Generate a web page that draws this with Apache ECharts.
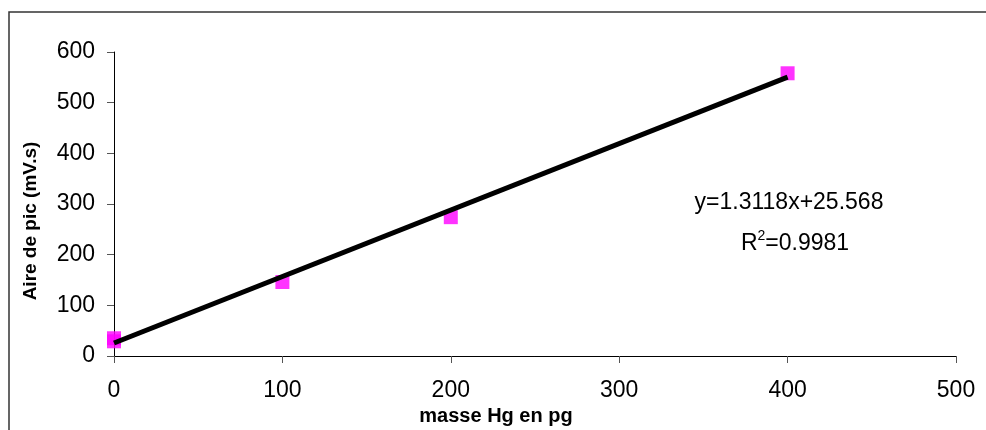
<!DOCTYPE html>
<html>
<head>
<meta charset="utf-8">
<script src="https://cdn.jsdelivr.net/npm/echarts@6/dist/echarts.min.js"></script>
<style>
  html, body { margin: 0; padding: 0; background: #fff; }
  #main { width: 986px; height: 430px; }
</style>
</head>
<body>
<div id="main"></div>
<script>
// données
var masseHg = [0, 0, 100, 200, 400];
var airePic = [29, 35, 146, 274, 558];
// droite de tendance (extrémités)
var trendX = [0, 400];
var trendY = [25.568, 550.288];
var xTicks = [0, 100, 200, 300, 400, 500];
var yTicks = [0, 100, 200, 300, 400, 500, 600];
var equation = 'y=1.3118x+25.568';
var r2Value = '0.9981';

window.onload = function() {

	var myChart = echarts.init(document.getElementById('main'));

	var points = masseHg.map(function(x, i) { return [x, airePic[i]]; });
	var trend = trendX.map(function(x, i) { return [x, trendY[i]]; });

	var axisFont = {
		fontFamily: 'Liberation Sans, Arial, sans-serif',
		fontSize: 23,
		color: '#000'
	};

	var option = {
		animation: false,
		grid: {
			left: 114,
			right: 30,
			top: 52,
			bottom: 74
		},
		xAxis: {
			type: 'value',
			min: xTicks[0],
			max: xTicks[xTicks.length - 1],
			interval: 100,
			splitLine: { show: false },
			axisLine: { onZero: false, lineStyle: { color: '#000', width: 1 } },
			axisTick: { show: true, inside: false, length: 7, lineStyle: { color: '#555' } },
			axisLabel: Object.assign({ margin: 23 }, axisFont)
		},
		yAxis: {
			type: 'value',
			min: yTicks[0],
			max: yTicks[yTicks.length - 1],
			interval: 100,
			splitLine: { show: false },
			axisLine: { show: true, onZero: false, lineStyle: { color: '#000', width: 1 } },
			axisTick: { show: true, inside: false, length: 7, lineStyle: { color: '#555' } },
			axisLabel: Object.assign({ margin: 19 }, axisFont)
		},
		graphic: [
			{
				type: 'rect',
				shape: { x: 9, y: 12, width: 1000, height: 440 },
				style: { fill: 'none', stroke: '#333', lineWidth: 1.5 },
				silent: true
			},
			{
				type: 'text',
				x: 496,
				y: 416,
				style: {
					text: 'masse Hg en pg',
					font: 'bold 20px Liberation Sans, Arial, sans-serif',
					fill: '#000',
					align: 'center',
					verticalAlign: 'middle'
				}
			},
			{
				type: 'text',
				x: 31,
				y: 221,
				rotation: Math.PI / 2,
				style: {
					text: 'Aire de pic (mV.s)',
					font: 'bold 19px Liberation Sans, Arial, sans-serif',
					fill: '#000',
					align: 'center',
					verticalAlign: 'middle'
				}
			},
			{
				type: 'text',
				x: 789,
				y: 203,
				style: {
					text: equation,
					font: '23px Liberation Sans, Arial, sans-serif',
					fill: '#000',
					align: 'center',
					verticalAlign: 'middle'
				}
			},
			{
				type: 'text',
				x: 795,
				y: 242,
				style: {
					text: '{n|R}{s|2}{n|=' + r2Value + '}',
					fill: '#000',
					align: 'center',
					verticalAlign: 'middle',
					rich: {
						n: { font: '23px Liberation Sans, Arial, sans-serif', verticalAlign: 'bottom' },
						s: { font: '14px Liberation Sans, Arial, sans-serif', verticalAlign: 'top', padding: [0, 0, 12, 0] }
					}
				}
			}
		],
		series: [
			{
				name: 'points',
				type: 'scatter',
				data: points,
				symbol: 'rect',
				symbolSize: 14,
				itemStyle: { color: '#ff00ff' },
				z: 2
			},
			{
				name: 'tendance',
				type: 'line',
				data: trend,
				showSymbol: false,
				symbol: 'none',
				lineStyle: { color: '#000', width: 5 },
				z: 3
			}
		]
	};

	myChart.setOption(option);

}
</script>
</body>
</html>
